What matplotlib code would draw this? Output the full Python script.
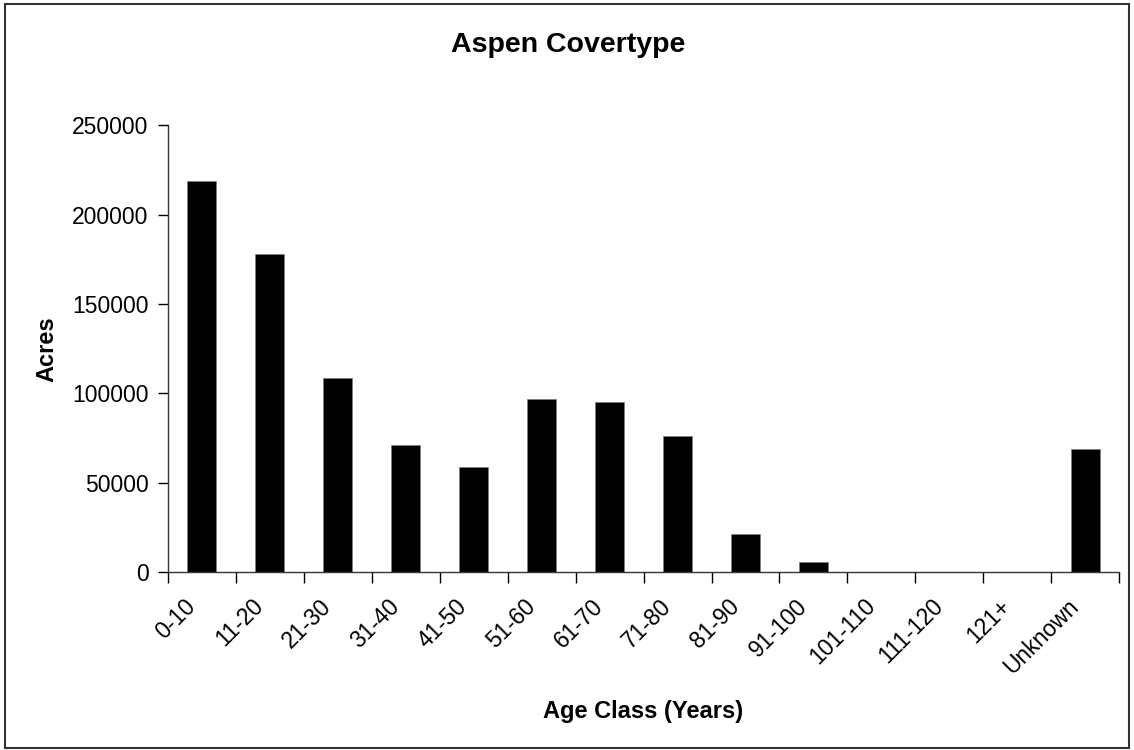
import numpy as np
import matplotlib.pyplot as plt
from matplotlib.patches import Rectangle
from matplotlib.transforms import ScaledTranslation

plt.rcParams['font.family'] = ['Liberation Sans', 'DejaVu Sans']

# Age classes and acres
age_classes = ['0-10', '11-20', '21-30', '31-40', '41-50', '51-60', '61-70',
               '71-80', '81-90', '91-100', '101-110', '111-120', '121+', 'Unknown']
acres = [219000, 177800, 108500, 70900, 58600, 96900, 95000,
         76100, 21300, 5800, 0, 0, 0, 69000]

fig = plt.figure(figsize=(11.34, 7.5), dpi=100)
ax = fig.add_axes([0.148, 0.237, 0.839, 0.596])

x = np.arange(len(age_classes))
ax.bar(x, acres, width=0.43, color='black', edgecolor='#808080', linewidth=0.6)

ax.set_xlim(-0.5, len(age_classes) - 0.5)
ax.set_ylim(0, 250000)
ax.set_yticks(np.arange(0, 250001, 50000))
ax.tick_params(axis='y', labelsize=16.5, length=7, width=1, pad=7)

# ticks between categories, labels at category centres
ax.set_xticks(np.arange(-0.5, len(age_classes)), minor=False)
ax.set_xticklabels([])
ax.set_xticks(x, minor=True)
ax.set_xticklabels(age_classes, minor=True, rotation=45, ha='right',
                   rotation_mode='anchor', fontsize=16.5)
ax.tick_params(axis='x', which='major', length=8, width=1)
ax.tick_params(axis='x', which='minor', length=0, pad=16)
shift = ScaledTranslation(-13 / 72, 0, fig.dpi_scale_trans)
for lbl in ax.get_xticklabels(minor=True):
    lbl.set_transform(lbl.get_transform() + shift)

for s in ['top', 'right']:
    ax.spines[s].set_visible(False)
for s in ['left', 'bottom']:
    ax.spines[s].set_color('#333333')
    ax.spines[s].set_linewidth(1)

fig.text(0.501, 0.94, 'Aspen Covertype', fontsize=20.5, fontweight='bold',
         ha='center', va='center')
ax.set_ylabel('Acres', fontsize=17, fontweight='bold', labelpad=10)
ax.set_xlabel('Age Class (Years)', fontsize=17, fontweight='bold', labelpad=16)

# chart border
fig.add_artist(Rectangle((0.004, 0.003), 0.992, 0.992, transform=fig.transFigure,
                         fill=False, edgecolor='#333333', linewidth=1.5))

fig.savefig('out.png', dpi=100)
